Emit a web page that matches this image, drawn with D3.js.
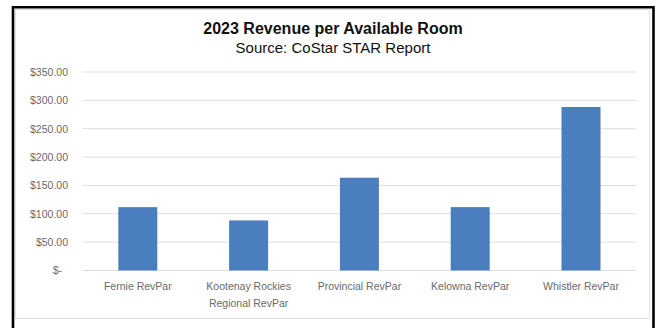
<!DOCTYPE html>
<html>
<head>
<meta charset="utf-8">
<script src="https://cdn.jsdelivr.net/npm/d3@7"></script>
<style>
  html, body { margin: 0; padding: 0; background: #fff; }
  svg { display: block; }
</style>
</head>
<body>
<svg id="chart" width="656" height="328"></svg>
<script>
// 2023 RevPAR by market (CAD)
const categories = [
  ["Fernie RevPar"],
  ["Kootenay Rockies", "Regional RevPar"],
  ["Provincial RevPar"],
  ["Kelowna RevPar"],
  ["Whistler RevPar"]
];
const revpar = [111.7, 88.3, 163.6, 111.8, 288.3];
const yTicks = [0, 50, 100, 150, 200, 250, 300, 350];
const yTickLabels = ["$-", "$50.00", "$100.00", "$150.00", "$200.00", "$250.00", "$300.00", "$350.00"];

const titleText = "2023 Revenue per Available Room";
const subtitleText = "Source: CoStar STAR Report";

const W = 656, H = 328;
const plot = { left: 82.4, right: 636.4, top: 72, bottom: 270.5 };

const svg = d3.select("#chart");

// outer frame (open at the bottom edge)
svg.append("rect")
  .attr("x", 15.5).attr("y", 9.5)
  .attr("width", 634).attr("height", 309)
  .attr("fill", "#fff")
  .attr("stroke", "#e2e2e2").attr("stroke-width", 1);

svg.append("path")
  .attr("d", `M13,${H} L13,7.2 L653.5,7.2 L653.5,${H}`)
  .attr("fill", "none")
  .attr("stroke", "#000")
  .attr("stroke-width", 2.6);

const idx = categories.map((_, i) => i);

const x = d3.scaleBand()
  .domain(idx)
  .range([plot.left, plot.right])
  .paddingInner(0.648)
  .paddingOuter(0.324);

const y = d3.scaleLinear()
  .domain([0, 350])
  .range([plot.bottom, plot.top]);

// gridlines
svg.append("g")
  .selectAll("line")
  .data(yTicks)
  .join("line")
  .attr("x1", plot.left).attr("x2", plot.right)
  .attr("y1", d => y(d)).attr("y2", d => y(d))
  .attr("stroke", "#dedede")
  .attr("stroke-width", 1);

// y axis labels
const yAxis = d3.axisLeft(y)
  .tickValues(yTicks)
  .tickFormat((d, i) => yTickLabels[i])
  .tickSize(0)
  .tickPadding(0);

const gy = svg.append("g")
  .attr("transform", `translate(68,0)`)
  .call(yAxis);
gy.select(".domain").remove();
gy.selectAll("text")
  .attr("font-family", "Liberation Sans, Arial, sans-serif")
  .attr("font-size", 10.5)
  .attr("fill", "#6a6a6a")
  .attr("dx", d => d === 0 ? -6 : 0);

// bars
svg.append("g")
  .selectAll("rect")
  .data(revpar)
  .join("rect")
  .attr("x", (d, i) => x(i))
  .attr("width", x.bandwidth())
  .attr("y", d => y(d))
  .attr("height", d => y(0) - y(d))
  .attr("fill", "#4a7ebf");

// category labels
const xAxis = d3.axisBottom(x).tickSize(0).tickPadding(0).tickFormat(() => "");
const gx = svg.append("g")
  .attr("transform", `translate(0,${plot.bottom})`)
  .call(xAxis);
gx.select(".domain").remove();
gx.selectAll(".tick text").remove();
gx.selectAll(".tick")
  .append("text")
  .attr("text-anchor", "middle")
  .attr("font-family", "Liberation Sans, Arial, sans-serif")
  .attr("font-size", 10.5)
  .attr("fill", "#6a6a6a")
  .selectAll("tspan")
  .data(i => categories[i])
  .join("tspan")
  .attr("x", 0)
  .attr("y", (d, j) => 19.5 + j * 16.5)
  .text(d => d);

// titles
svg.append("text")
  .attr("x", 333).attr("y", 34)
  .attr("text-anchor", "middle")
  .attr("font-family", "Liberation Sans, Arial, sans-serif")
  .attr("font-weight", "bold")
  .attr("font-size", 16)
  .attr("fill", "#111")
  .text(titleText);

svg.append("text")
  .attr("x", 333).attr("y", 52.5)
  .attr("text-anchor", "middle")
  .attr("font-family", "Liberation Sans, Arial, sans-serif")
  .attr("font-size", 15)
  .attr("fill", "#111")
  .text(subtitleText);
</script>
</body>
</html>
